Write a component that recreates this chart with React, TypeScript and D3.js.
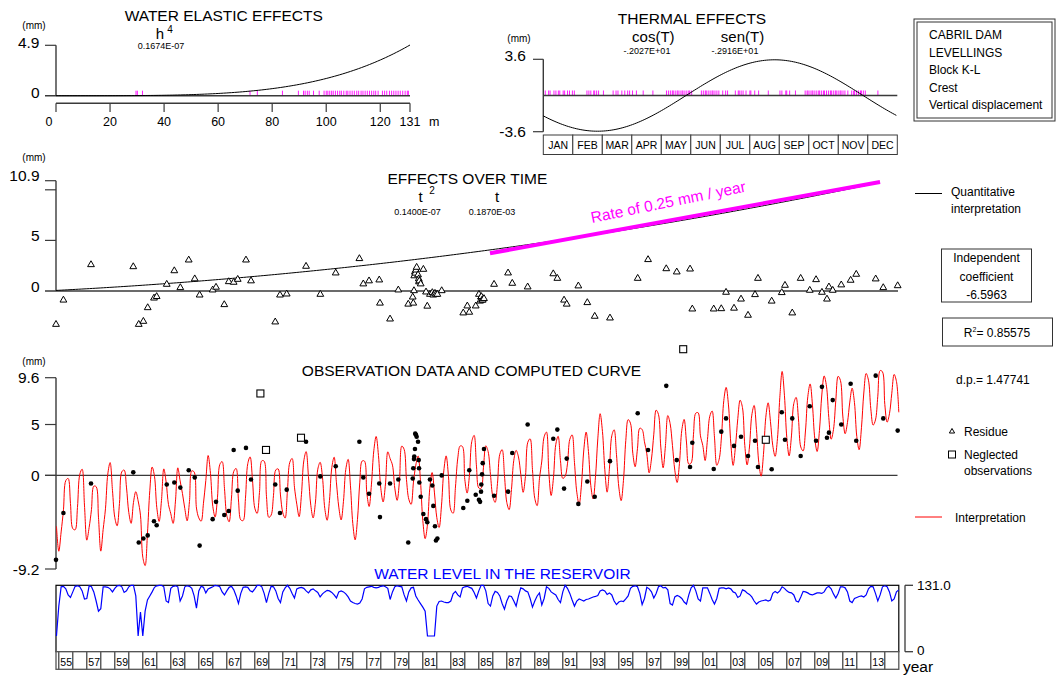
import React from "react";
import * as d3 from "d3";

const FONT = "'Liberation Sans', Arial, Helvetica, sans-serif";

// coefficients printed on the chart
const coefH4 = 0.1674e-7;
const coefCos = -2.027;
const coefSin = -2.916;
const coefT2 = 0.14e-7;
const coefT = 0.187e-3;
const independent = -6.5963;
const r2 = "0.85575";
const dp = "1.47741";
const timeOrigin = 1954.0; // t counted in days from here

const months = ["JAN", "FEB", "MAR", "APR", "MAY", "JUN", "JUL", "AUG", "SEP", "OCT", "NOV", "DEC"];
const elasticTicks = [0, 20, 40, 60, 80, 100, 120, 131];

// observations: date (decimal year), displacement (mm), residue (mm)
const obsYears = [
  1954.8, 1955.33, 1957.3, 1960.32, 1960.71, 1961.04, 1961.35, 1961.8, 1961.99, 1962.71,
  1963.25, 1963.68, 1964.28, 1964.71, 1965.06, 1965.99, 1966.23, 1966.82, 1967.14, 1967.49,
  1967.78, 1968.37, 1968.73, 1970.46, 1970.8, 1971.28, 1972.66, 1973.68, 1974.78, 1976.47,
  1976.75, 1977.16, 1977.89, 1977.94, 1978.66, 1979.25, 1979.96, 1980.28, 1980.32, 1980.37,
  1980.39, 1980.44, 1980.46, 1980.51, 1980.56, 1980.66, 1980.71, 1980.73, 1980.75, 1980.85,
  1981.04, 1981.23, 1981.32, 1981.51, 1981.68, 1981.75, 1981.87, 1981.94, 1982.04, 1982.35,
  1983.89, 1984.18, 1984.32, 1984.78, 1985.01, 1985.09, 1985.16, 1985.18, 1985.23, 1985.28,
  1985.37, 1986.09, 1987.09, 1987.39, 1988.49, 1990.32, 1990.61, 1991.09, 1991.28, 1992.11,
  1992.75, 1993.28, 1994.37, 1996.35, 1997.09, 1998.39, 1999.14, 2000.09, 2000.25, 2001.78,
  2002.32, 2002.66, 2003.23, 2003.73, 2004.23, 2004.73, 2004.94, 2005.92, 2006.64, 2006.87,
  2007.39, 2007.99, 2008.64, 2009.09, 2009.51, 2009.87, 2010.01, 2010.28, 2010.89, 2011.56,
  2011.96, 2013.35, 2013.89, 2014.92,
];
const obsValues = [
  -8.3, -3.7, -0.8, 0.3, -6.6, -6.2, -5.9, -4.5, -4.9, -0.9,
  -0.7, -1.2, 0.5, -0.2, -6.9, -4.3, -2.6, -3.9, -3.5, 2.5,
  -1.5, 2.7, -0.4, -0.9, -3.7, -1.4, 3.3, -0.1, 0.9, 3.3,
  -0.2, -1.8, -0.8, -4.1, -0.8, -0.4, -6.6, -0.3, 0.7, 1.6,
  1.85, 2.6, 4.1, 4.0, 3.8, 3.3, 1.5, 0.7, -0.7, -2.1,
  -3.8, -4.3, -4.6, -0.4, -1.0, -3.0, -5.0, -6.4, -6.2, 0.0,
  -3.2, -2.5, 0.5, -1.9, -2.4, -2.6, -1.6, -0.9, 0.1, 1.2,
  2.6, -2.0, -1.6, 2.2, 5.0, 3.6, 4.5, -1.3, 1.65, -2.8,
  -0.6, -2.1, 1.4, 6.1, 2.5, 8.8, 1.5, 0.83, 3.2, 0.63,
  4.3, 5.6, 2.9, 3.8, 1.9, 3.4, 0.83, 0.6, 6.2, 3.5,
  5.6, 1.9, 6.8, 3.4, 8.7, 3.7, 4.2, 7.4, 5.0, 9.0,
  3.4, 9.8, 5.6, 4.4,
];
const residues = [
  -3.3, -0.9, 2.6, 2.4, -3.3, -3.0, -1.65, -0.7, -0.55, 0.66,
  2.0, 0.33, 3.06, 1.2, -0.4, 0.1, 0.37, -1.35, 0.92, 0.86,
  1.15, 3.06, 1.0, -3.06, -0.4, -0.3, 2.44, -0.33, 1.78, 3.2,
  0.7, 1.0, 1.09, -1.2, -2.77, 0.1, -1.3, -0.6, -1.2, 0.03,
  1.5, 1.9, 1.76, 2.07, 2.34, 1.6, 1.2, 0.9, 1.0, 0.7,
  2.14, -0.1, -1.5, -0.33, -0.16, -0.4, -0.23, -0.33, -0.33, 0.03,
  -2.17, -1.48, -2.1, -1.48, -0.33, -1.0, -0.6, -0.55, -0.9, -0.9,
  -0.75, 0.66, 1.78, 0.76, 0.4, 1.7, 1.25, -0.9, -1.3, 0.5,
  -1.15, -2.5, -2.67, 1.25, 3.1, 2.2, 1.88, 2.17, -1.78, -1.78,
  -1.75, -0.13, -1.7, -0.8, -2.4, -0.36, 1.25, -1.0, -0.16, 0.56,
  -2.17, 1.25, 0.07, 1.12, -0.13, -0.8, 0.4, 0.07, 0.6, 1.06,
  1.65, 1.19, 0.33, 0.52,
];

const neglectedYears = [1969.4, 1969.8, 1972.3, 1999.6, 2005.5];
const neglectedValues = [8.05, 2.5, 3.7, 12.4, 3.5];

// observation water levels (m) and days of year, shown as rugs
const rugLevels = [
  29.6, 30.1, 32.0, 71.8, 74.5, 83.8, 89.7, 91.6, 92.2, 93.0, 93.7, 95.3, 97.4, 99.2, 100.0,
  100.6, 101.3, 102.0, 102.6, 103.4, 104.2, 105.0, 105.6, 106.5, 107.4, 108.0, 108.8, 109.6,
  110.4, 111.3, 112.0, 112.9, 113.6, 114.4, 115.2, 116.0, 116.8, 117.6, 118.3, 119.2, 120.8,
  121.6, 122.4, 123.4, 124.2, 125.0, 125.8, 126.6, 127.4, 128.3, 129.2, 130.0, 130.4,
];
const rugDays = [
  2, 5.5, 7, 11, 13, 15.5, 17, 20.5, 22, 25, 27, 30, 32,
  45, 47, 49, 52, 53, 55, 57, 62,
  72, 75, 77, 81, 84, 87, 89, 92, 96, 103,
  113, 127, 129, 131, 133, 134, 136, 138, 139, 141, 143, 144, 146, 148, 150, 151, 153,
  163, 165, 167, 168, 170, 172, 174, 175, 177, 179, 181, 185, 188, 190,
  198, 201, 202, 204, 206, 209, 213, 214, 218, 222,
  232, 244, 246, 250, 251, 254, 260,
  270, 272, 273, 275, 277, 278, 280, 282, 284, 285, 287, 289, 290, 292, 294, 296, 297, 299,
  301, 302, 304, 306, 307, 309, 311, 314, 318, 320, 321, 323, 325, 327, 328, 330, 332,
  345,
];

// reservoir level (m), every two months starting Nov 1954
const levelStart = 1954 + 5 / 6;
const levelValues = [
  31,
  90, 128, 129, 124, 112, 107, // 1955
  118, 129, 130, 128, 120, 104,
  105, 130, 128, 118, 100, 80,
  85, 128, 128, 127, 124, 118,
  125, 130, 131, 128, 117, 120,
  128, 131, 131, 110, 31, 78, // 1960
  31, 80, 102, 110, 118, 127,
  130, 131, 131, 128, 100, 97,
  125, 129, 130, 128, 100, 110,
  128, 130, 129, 125, 110, 86,
  120, 129, 127, 116, 124, 126, // 1965
  128, 131, 130, 128, 118, 112,
  120, 127, 129, 122, 110, 95,
  115, 127, 128, 127, 120, 118,
  124, 131, 131, 128, 115, 97,
  115, 129, 128, 120, 105, 97, // 1970
  118, 126, 131, 125, 115, 106,
  124, 126, 127, 125, 120, 116,
  122, 124, 120, 117, 108, 114,
  118, 121, 120, 117, 112, 106,
  118, 120, 118, 114, 108, 100, // 1975
  97, 95, 94, 96, 104, 124,
  127, 128, 129, 127, 126, 127,
  129, 130, 128, 125, 103, 118,
  128, 130, 129, 128, 112, 100,
  118, 126, 127, 110, 102, 95, // 1980
  88, 80, 31, 31, 31, 31,
  90, 99, 100, 98, 97, 97,
  100, 114, 119, 112, 108, 126,
  128, 129, 127, 125, 117, 106,
  120, 131, 131, 120, 95, 90, // 1985
  110, 119, 117, 110, 95, 84,
  100, 110, 109, 100, 90, 110,
  126, 124, 120, 118, 105, 88,
  100, 110, 116, 92, 105, 128,
  125, 118, 115, 112, 103, 97, // 1990
  118, 131, 125, 115, 102, 90,
  100, 104, 102, 100, 103, 104,
  106, 108, 109, 111, 120, 122,
  120, 113, 116, 112, 100, 93,
  98, 100, 99, 104, 110, 125, // 1995
  129, 130, 128, 115, 93, 105,
  127, 124, 118, 106, 115, 128,
  130, 126, 127, 122, 95, 92,
  108, 111, 109, 105, 98, 94,
  112, 126, 131, 120, 104, 100, // 2000
  126, 126, 126, 115, 103, 94,
  105, 125, 126, 126, 124, 126,
  124, 118, 116, 107, 110, 122,
  120, 116, 113, 108, 100, 94,
  98, 100, 101, 102, 100, 102, // 2005
  115, 119, 116, 120, 128, 125,
  120, 117, 116, 112, 100, 98,
  108, 119, 118, 116, 113, 112,
  114, 116, 116, 115, 118, 126,
  129, 124, 114, 106, 115, 128, // 2010
  128, 126, 118, 100, 97, 105,
  107, 109, 110, 108, 112, 124,
  129, 128, 115, 100, 112, 128,
  130, 128, 118, 100, 104, 118,
  122,
];

// trend line drawn over the time effect
const rateYears = [1985.8, 2013.66];
const rateValues = [3.73, 10.77];

const firstYear = 1955;
const lastYear = 2014;

const thermal = (T: number) => coefCos * Math.cos(T) + coefSin * Math.sin(T);
const timeEffect = (year: number) => {
  const d = (year - timeOrigin) * 365.25;
  return coefT2 * d * d + coefT * d;
};
const computed = (year: number, h: number) =>
  independent + coefH4 * Math.pow(h, 4) + thermal(2 * Math.PI * (year - Math.floor(year))) + timeEffect(year);

const AX = "#3a3a3a";

const App = () => {
  // shared time axis
  const xT = d3.scaleLinear().domain([1954.8, 2015]).range([56, 898.8]);

  // water elastic panel
  const xH = d3.scaleLinear().domain([0, 131]).range([56, 410]);
  const yH = d3.scaleLinear().domain([0, 4.9]).range([95.7, 45.3]);
  const elasticPath = d3
    .line<number>()
    .x((h) => xH(h))
    .y((h) => yH(coefH4 * Math.pow(h, 4)))(d3.range(0, 131.5, 1));

  // thermal panel
  const xD = d3.scaleLinear().domain([0, 365]).range([543.3, 897.3]);
  const yD = d3.scaleLinear().domain([-3.6, 3.6]).range([131.7, 59.3]);
  const thermalPath = d3
    .line<number>()
    .x((d) => xD(d))
    .y((d) => yD(thermal((2 * Math.PI * d) / 365)))(d3.range(0, 366, 2));
  const monthW = (xD(365) - xD(0)) / 12;

  // effects over time
  const yE = d3.scaleLinear().domain([0, 10.9]).range([291, 180.7]);
  const timePath = d3
    .line<number>()
    .x((y) => xT(y))
    .y((y) => yE(timeEffect(y)))(d3.range(1954.8, 2013.7, 0.2));
  const rateLine = rateYears.map((y, i) => [xT(y), yE(rateValues[i])]);
  const rateAngle = (Math.atan2(rateLine[1][1] - rateLine[0][1], rateLine[1][0] - rateLine[0][0]) * 180) / Math.PI;

  // observation panel
  const yO = d3.scaleLinear().domain([-9.2, 9.6]).range([569, 377.7]);
  const levelYears = levelValues.map((_, i) => levelStart + i / 6);
  const redPath = d3
    .line<number>()
    .curve(d3.curveCatmullRom)
    .x((_, i) => xT(levelYears[i]))
    .y((h, i) => yO(computed(levelYears[i], h)))(levelValues);

  // reservoir level
  const yL = d3.scaleLinear().domain([0, 131]).range([651.7, 585.3]);
  const levelPath = d3
    .line<number>()
    .x((_, i) => xT(levelYears[i]))
    .y((h) => yL(h))(levelValues);

  const tri = d3.symbol().type(d3.symbolTriangle).size(20)();
  const triSmall = d3.symbol().type(d3.symbolTriangle).size(12)();
  const years = d3.range(firstYear, lastYear + 1);

  const big = 15.5;
  const small = 9;

  return (
    <svg
      width={1057}
      height={675}
      style={{ position: "absolute", left: 0, top: 0, background: "#fff" }}
      fontFamily={FONT}
    >
      {/* ---------- WATER ELASTIC EFFECTS ---------- */}
      <text x={223.7} y={21} fontSize={big} textAnchor="middle">WATER ELASTIC EFFECTS</text>
      <text x={160} y={38.5} fontSize={15} textAnchor="middle">h</text>
      <text x={170} y={33} fontSize={10} textAnchor="middle">4</text>
      <text x={161} y={49} fontSize={small} textAnchor="middle">0.1674E-07</text>
      <text x={34} y={28.5} fontSize={10} textAnchor="middle">(mm)</text>
      <text x={39.5} y={47.5} fontSize={big} textAnchor="end">4.9</text>
      <text x={39.5} y={97.5} fontSize={big} textAnchor="end">0</text>
      <line x1={56} x2={56} y1={yH(4.9)} y2={yH(0)} stroke={AX} strokeWidth={1.4} />
      <line x1={45} x2={56} y1={yH(4.9)} y2={yH(4.9)} stroke={AX} strokeWidth={1.2} />
      {rugLevels.map((h, i) => (
        <line key={i} x1={xH(h)} x2={xH(h)} y1={yH(0) - 5} y2={yH(0)} stroke="#ff00ff" strokeWidth={0.9} />
      ))}
      <line x1={45} x2={410} y1={yH(0)} y2={yH(0)} stroke={AX} strokeWidth={1.4} />
      <path d={elasticPath || ""} fill="none" stroke="#000" strokeWidth={1} />
      <line x1={xH(0)} x2={xH(131)} y1={103.3} y2={103.3} stroke={AX} strokeWidth={1.4} />
      {elasticTicks.map((t) => (
        <g key={t}>
          <line x1={xH(t)} x2={xH(t)} y1={103.3} y2={112} stroke={AX} strokeWidth={1.2} />
          <text x={xH(t) - (t === 0 ? 7 : 0)} y={126} fontSize={12.5} textAnchor="middle">{t}</text>
        </g>
      ))}
      <text x={429} y={126} fontSize={12.5}>m</text>

      {/* ---------- THERMAL EFFECTS ---------- */}
      <text x={692} y={23.5} fontSize={big} textAnchor="middle">THERMAL EFFECTS</text>
      <text x={653.3} y={42} fontSize={15} textAnchor="middle">cos(T)</text>
      <text x={742.5} y={42} fontSize={15} textAnchor="middle">sen(T)</text>
      <text x={647} y={53.5} fontSize={small} textAnchor="middle">-.2027E+01</text>
      <text x={735} y={53.5} fontSize={small} textAnchor="middle">-.2916E+01</text>
      <text x={519} y={41.5} fontSize={10} textAnchor="middle">(mm)</text>
      <text x={526} y={61} fontSize={big} textAnchor="end">3.6</text>
      <text x={526} y={137} fontSize={big} textAnchor="end">-3.6</text>
      <line x1={xD(0)} x2={xD(0)} y1={yD(3.6)} y2={yD(-3.6)} stroke={AX} strokeWidth={1.4} />
      <line x1={533} x2={xD(0)} y1={yD(3.6)} y2={yD(3.6)} stroke={AX} strokeWidth={1.2} />
      <line x1={533} x2={xD(0)} y1={yD(-3.6)} y2={yD(-3.6)} stroke={AX} strokeWidth={1.2} />
      {rugDays.map((d, i) => (
        <line key={i} x1={xD(d)} x2={xD(d)} y1={yD(0) - 5} y2={yD(0)} stroke="#ff00ff" strokeWidth={0.9} />
      ))}
      <line x1={xD(0)} x2={xD(365)} y1={yD(0)} y2={yD(0)} stroke={AX} strokeWidth={1.4} />
      <path d={thermalPath || ""} fill="none" stroke="#000" strokeWidth={1} />
      {months.map((m, i) => (
        <g key={m}>
          <rect x={xD(0) + i * monthW} y={135} width={monthW} height={19.5} fill="#fff" stroke={AX} strokeWidth={1} />
          <text x={xD(0) + (i + 0.5) * monthW} y={148.5} fontSize={10.5} textAnchor="middle">{m}</text>
        </g>
      ))}

      {/* ---------- info box ---------- */}
      <rect x={914} y={19} width={141} height={102} fill="none" stroke="#333" strokeWidth={1} />
      <rect x={917} y={22} width={135} height={96} fill="none" stroke="#333" strokeWidth={1} />
      {["CABRIL DAM", "LEVELLINGS", "Block K-L", "Crest", "Vertical displacement"].map((s, i) => (
        <text key={s} x={929} y={39 + i * 17.6} fontSize={12}>{s}</text>
      ))}

      {/* ---------- EFFECTS OVER TIME ---------- */}
      <text x={467.4} y={184} fontSize={big} textAnchor="middle">EFFECTS OVER TIME</text>
      <text x={420.5} y={202} fontSize={15} textAnchor="middle">t</text>
      <text x={432} y={194} fontSize={10} textAnchor="middle">2</text>
      <text x={497} y={202} fontSize={15} textAnchor="middle">t</text>
      <text x={417.5} y={215} fontSize={small} textAnchor="middle">0.1400E-07</text>
      <text x={492} y={215} fontSize={small} textAnchor="middle">0.1870E-03</text>
      <text x={34} y={161} fontSize={10} textAnchor="middle">(mm)</text>
      <text x={39.5} y={181} fontSize={big} textAnchor="end">10.9</text>
      <text x={39.5} y={241} fontSize={big} textAnchor="end">5</text>
      <text x={39.5} y={291.5} fontSize={big} textAnchor="end">0</text>
      <line x1={56} x2={56} y1={yE(10.9)} y2={yE(0)} stroke={AX} strokeWidth={1.4} />
      {[10.9, 10, 5].map((t) => (
        <line key={t} x1={45} x2={56} y1={yE(t)} y2={yE(t)} stroke={AX} strokeWidth={1.2} />
      ))}
      <line x1={45} x2={898} y1={yE(0)} y2={yE(0)} stroke={AX} strokeWidth={1.4} />
      <path d={timePath || ""} fill="none" stroke="#000" strokeWidth={1} />
      <line
        x1={rateLine[0][0]} y1={rateLine[0][1]} x2={rateLine[1][0]} y2={rateLine[1][1]}
        stroke="#ff00ff" strokeWidth={4}
      />
      <text x={592} y={223} fontSize={15.5} fill="#ff00ff" transform={`rotate(${rateAngle - 1.2}, 592, 223)`}>
        Rate of 0.25 mm / year
      </text>
      {obsYears.map((y, i) => (
        <path key={i} d={tri || ""} transform={`translate(${xT(y)},${yE(residues[i])})`} fill="#fff" stroke="#000" strokeWidth={1} />
      ))}

      {/* ---------- OBSERVATION DATA ---------- */}
      <text x={471.5} y={376} fontSize={big} textAnchor="middle">OBSERVATION DATA AND COMPUTED CURVE</text>
      <text x={34} y={365} fontSize={10} textAnchor="middle">(mm)</text>
      {[9.6, 5, 0, -9.2].map((t) => (
        <g key={t}>
          <line x1={45} x2={56} y1={yO(t)} y2={yO(t)} stroke={AX} strokeWidth={1.2} />
          <text x={39.5} y={yO(t) + 5.5} fontSize={big} textAnchor="end">{t}</text>
        </g>
      ))}
      <line x1={56} x2={56} y1={yO(9.6)} y2={yO(-9.2)} stroke={AX} strokeWidth={1.4} />
      <line x1={45} x2={897.5} y1={yO(0)} y2={yO(0)} stroke={AX} strokeWidth={1.4} />
      <path d={redPath || ""} fill="none" stroke="#ff0000" strokeWidth={1} />
      {obsYears.map((y, i) => (
        <circle key={i} cx={xT(y)} cy={yO(obsValues[i])} r={2.3} fill="#000" />
      ))}
      {neglectedYears.map((y, i) => (
        <rect key={i} x={xT(y) - 3.5} y={yO(neglectedValues[i]) - 3.5} width={7} height={7} fill="#fff" stroke="#000" strokeWidth={1.1} />
      ))}

      {/* ---------- WATER LEVEL ---------- */}
      <text x={502.5} y={578.5} fontSize={big} fill="#0000ff" textAnchor="middle">WATER LEVEL IN THE RESERVOIR</text>
      <rect x={56} y={yL(131)} width={xT(2015) - 56} height={yL(0) - yL(131)} fill="#fff" stroke="#000" strokeWidth={1.2} />
      <path d={levelPath || ""} fill="none" stroke="#0000ff" strokeWidth={1.2} />
      <rect x={56} y={651.7} width={xT(firstYear) - 56} height={17.6} fill="#fff" stroke="#555" strokeWidth={1.3} />
      {years.map((y) => (
        <g key={y}>
          <rect x={xT(y)} y={651.7} width={xT(y + 1) - xT(y)} height={17.6} fill="#fff" stroke="#555" strokeWidth={1.3} />
          {y % 2 === 1 && (
            <text x={xT(y) + 1.5} y={665.5} fontSize={10.5}>{String(y % 100).padStart(2, "0")}</text>
          )}
        </g>
      ))}
      <line x1={905} x2={905} y1={yL(131)} y2={yL(0)} stroke={AX} strokeWidth={1.3} />
      <line x1={905} x2={913} y1={yL(131)} y2={yL(131)} stroke={AX} strokeWidth={1.3} />
      <line x1={905} x2={913} y1={yL(0)} y2={yL(0)} stroke={AX} strokeWidth={1.3} />
      <text x={917} y={590} fontSize={13.5}>131.0</text>
      <text x={917} y={655} fontSize={13.5}>0</text>
      <text x={903} y={672} fontSize={15.5}>year</text>

      {/* ---------- right legends ---------- */}
      <line x1={915} x2={942} y1={193.5} y2={193.5} stroke="#000" strokeWidth={1} />
      <text x={951} y={196} fontSize={12}>Quantitative</text>
      <text x={951} y={213} fontSize={12}>interpretation</text>

      <rect x={941.5} y={249} width={90} height={53} fill="none" stroke="#333" strokeWidth={1} />
      <text x={986.5} y={262} fontSize={12} textAnchor="middle">Independent</text>
      <text x={986.5} y={281} fontSize={12} textAnchor="middle">coefficient</text>
      <text x={986.5} y={299} fontSize={12} textAnchor="middle">{independent.toFixed(4)}</text>

      <rect x={942.5} y={318} width={110} height={28} fill="none" stroke="#333" strokeWidth={1} />
      <text x={997} y={337} fontSize={12} textAnchor="middle">
        R<tspan fontSize={7} dy={-5}>2</tspan>
        <tspan dy={5}>= {r2}</tspan>
      </text>

      <text x={956} y={384} fontSize={12}>d.p.= {dp}</text>

      <path d={triSmall || ""} transform="translate(952,431.5)" fill="#fff" stroke="#000" strokeWidth={1} />
      <text x={964} y={436} fontSize={12}>Residue</text>
      <rect x={948.5} y={451} width={7} height={7} fill="#fff" stroke="#000" strokeWidth={1} />
      <text x={964} y={459} fontSize={12}>Neglected</text>
      <text x={964} y={475} fontSize={12}>observations</text>

      <line x1={915} x2={942} y1={517} y2={517} stroke="#ff0000" strokeWidth={1} />
      <text x={955} y={521.5} fontSize={12}>Interpretation</text>
    </svg>
  );
};

export default App;
